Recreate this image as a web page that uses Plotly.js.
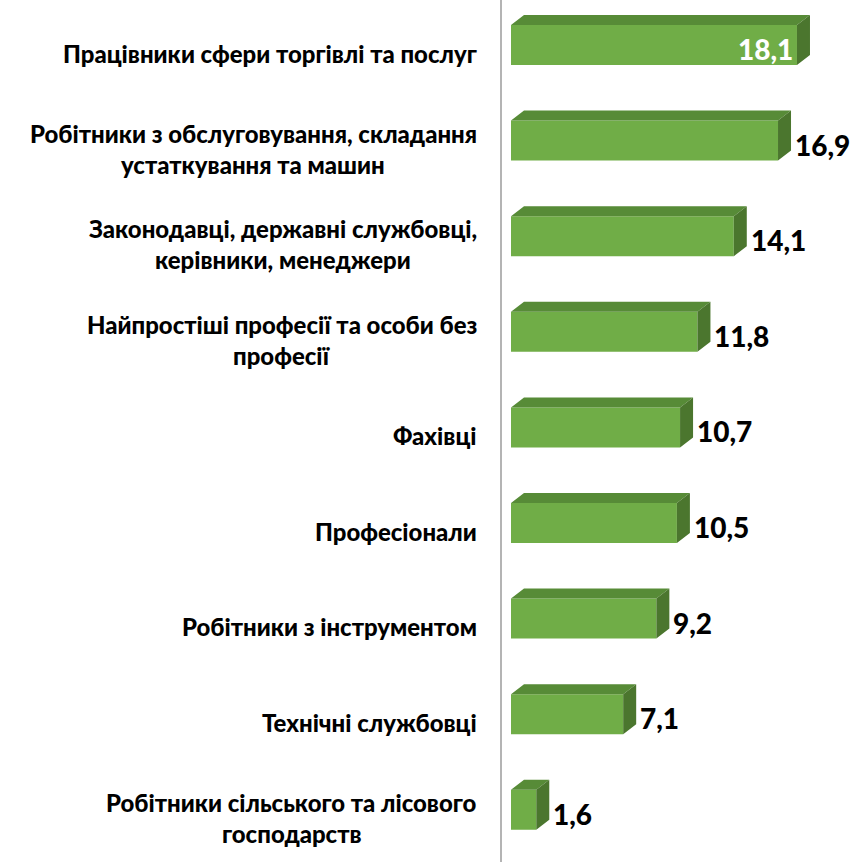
<!DOCTYPE html>
<html>
<head>
<meta charset="utf-8">
<script src="https://cdn.plot.ly/plotly-3.0.1.min.js"></script>
<style>html,body{margin:0;padding:0;background:#fff;}#chart{width:863px;height:862px;}</style>
</head>
<body>
<div id="chart"></div>
<script>
// ---- data ----
const categories = [
  "Працівники сфери торгівлі та послуг",
  "Робітники з обслуговування, складання<br>устаткування та машин",
  "Законодавці, державні службовці,<br>керівники, менеджери",
  "Найпростіші професії та особи без<br>професії",
  "Фахівці",
  "Професіонали",
  "Робітники з інструментом",
  "Технічні службовці",
  "Робітники сільського та лісового<br>господарств"
];
const values = [18.1, 16.9, 14.1, 11.8, 10.7, 10.5, 9.2, 7.1, 1.6];
const valueLabels = ["18,1", "16,9", "14,1", "11,8", "10,7", "10,5", "9,2", "7,1", "1,6"];

// ---- geometry / style ----
const W = 863, H = 862;
const marginL = 502;
const pxPerUnit = 15.8;
const xmin = -9 / pxPerUnit;
const xmax = xmin + (W - marginL) / pxPerUnit;
const firstCenter = 45, step = 95.6;
const yTop = -firstCenter / step;
const yBottom = (H - firstCenter) / step;
const barW = 40 / step;
const dx = 13 / pxPerUnit;
const dy = 10 / step;
const FONT = "Lato, 'Open Sans', sans-serif";
const WEIGHT = 900;

const idx = categories.map((_, i) => i);

// 3D faces built from the data values
const topX = [], topY = [], sideX = [], sideY = [];
values.forEach((v, i) => {
  const t = i - barW / 2, b = i + barW / 2;
  topX.push(0, v, v + dx, dx, 0, null);
  topY.push(t, t, t - dy, t - dy, t, null);
  sideX.push(v, v + dx, v + dx, v, v, null);
  sideY.push(t, t - dy, b - dy, b, t, null);
});

const traces = [
  {type: 'bar', orientation: 'h', x: values, y: idx, width: barW,
   marker: {color: '#70AD47', line: {width: 0}}, hoverinfo: 'skip'},
  {type: 'scatter', mode: 'lines', x: topX, y: topY, fill: 'toself',
   fillcolor: '#578B37', line: {width: 0, color: '#578B37'}, hoverinfo: 'skip'},
  {type: 'scatter', mode: 'lines', x: sideX, y: sideY, fill: 'toself',
   fillcolor: '#4B762E', line: {width: 0, color: '#4B762E'}, hoverinfo: 'skip'}
];

// text measurement for centered multi-line category labels
const cv = document.createElement('canvas').getContext('2d');
function measure(txt, size) { cv.font = WEIGHT + ' ' + size + 'px Lato, "Open Sans", sans-serif'; return cv.measureText(txt).width; }
const labelSize = Math.min(24, 20 * 414 / measure("Працівники сфери торгівлі та послуг", 20));
const labelRight = 477;
const lineGap = 31;
const labelOffset = 8;

const annotations = [];
categories.forEach((c, i) => {
  const lines = c.split('<br>');
  const maxW = Math.max(...lines.map(l => measure(l, labelSize)));
  const cx = labelRight - maxW / 2 - marginL; // px relative to plot left
  const n = lines.length;
  lines.forEach((l, j) => {
    const off = labelOffset + (j - (n - 1) / 2) * lineGap;
    annotations.push({xref: 'paper', yref: 'y', x: 0, y: i, xanchor: 'center', yanchor: 'middle',
      xshift: cx, yshift: -off, text: l, showarrow: false,
      font: {family: FONT, size: labelSize, color: '#000', weight: WEIGHT}});
  });
});

values.forEach((v, i) => {
  if (i === 0) {
    annotations.push({xref: 'x', yref: 'y', x: v, y: i, xanchor: 'right', yanchor: 'middle',
      xshift: -2, yshift: -4, text: valueLabels[i], showarrow: false,
      font: {family: FONT, size: 28, color: '#FFFFFF', weight: WEIGHT}});
  } else {
    annotations.push({xref: 'x', yref: 'y', x: v + dx, y: i, xanchor: 'left', yanchor: 'middle',
      xshift: 2, yshift: -4, text: valueLabels[i], showarrow: false,
      font: {family: FONT, size: 28, color: '#000000', weight: WEIGHT}});
  }
});

const layout = {
  width: W, height: H,
  margin: {l: marginL, r: 0, t: 0, b: 0},
  paper_bgcolor: '#fff', plot_bgcolor: '#fff',
  showlegend: false,
  xaxis: {range: [xmin, xmax], showgrid: false, zeroline: false, showticklabels: false, showline: false, ticks: ''},
  yaxis: {range: [yBottom, yTop], showgrid: false, zeroline: false, showticklabels: false, ticks: '',
          showline: true, linecolor: '#B4B4B4', linewidth: 2},
  annotations: annotations
};

Plotly.newPlot('chart', traces, layout, {displayModeBar: false, staticPlot: true});
</script>
</body>
</html>
